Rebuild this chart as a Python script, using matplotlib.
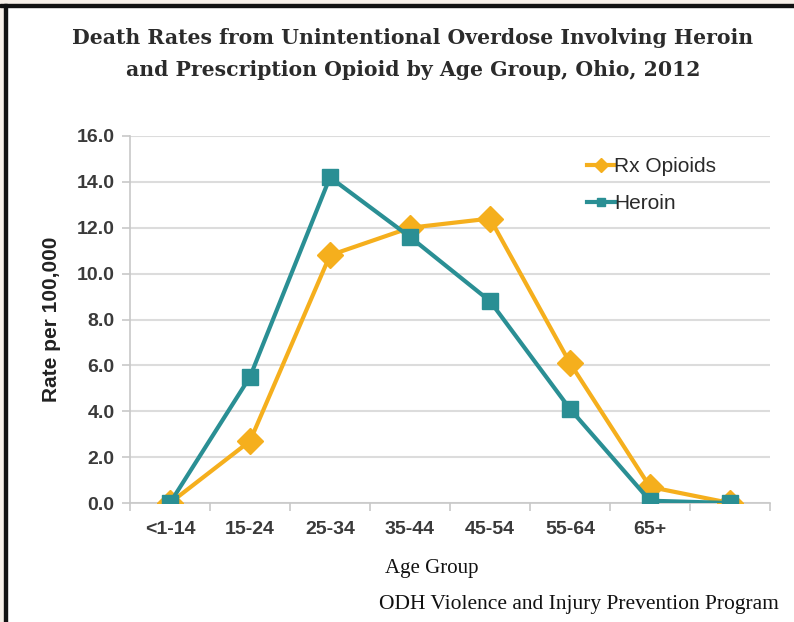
import matplotlib.pyplot as plt
from matplotlib.patches import Rectangle

# Ohio 2012 unintentional overdose death rates per 100,000
age_groups = ['<1-14', '15-24', '25-34', '35-44', '45-54', '55-64', '65+', '']
rx_opioids = [0.0, 2.7, 10.8, 12.0, 12.4, 6.1, 0.7, 0.0]
heroin = [0.0, 5.5, 14.2, 11.6, 8.8, 4.1, 0.1, 0.0]
y_ticks = [0, 2, 4, 6, 8, 10, 12, 14, 16]

W, H = 794, 622
fig = plt.figure(figsize=(W / 100, H / 100), dpi=100)
fig.patch.set_facecolor('white')

# cream margin and black frame on top / left
fig.patches.append(Rectangle((0, 1 - 4 / H), 1, 4 / H, transform=fig.transFigure,
                             color='#f6efe8', zorder=0))
fig.patches.append(Rectangle((0, 0), 4 / W, 1, transform=fig.transFigure,
                             color='#f6efe8', zorder=0))
fig.patches.append(Rectangle((0, 1 - 7 / H), 1, 3 / H, transform=fig.transFigure,
                             color='#111111', zorder=1))
fig.patches.append(Rectangle((4 / W, 0), 3 / W, 1 - 4 / H, transform=fig.transFigure,
                             color='#111111', zorder=1))

ax = fig.add_axes([130 / W, 1 - 503 / H, 640 / W, 367 / H])
x = range(len(age_groups))

ax.plot(x, rx_opioids, color='#f5af1d', linewidth=3, marker='D', markersize=13,
        label='Rx Opioids', zorder=3)
ax.plot(x, heroin, color='#2a8f94', linewidth=3, marker='s', markersize=11.5,
        label='Heroin', zorder=4)

ax.set_xlim(-0.5, len(age_groups) - 0.5)
ax.set_ylim(0, 16)
ax.set_yticks(y_ticks)
ax.set_yticklabels([f'{v:.1f}' for v in y_ticks])
ax.set_xticks(list(x))
ax.set_xticklabels(age_groups)
ax.set_xticks([i - 0.5 for i in range(len(age_groups) + 1)], minor=True)

ax.grid(axis='y', color='#dcdcdc', linewidth=1.5, zorder=0)
ax.set_axisbelow(True)
for side in ['top', 'right']:
    ax.spines[side].set_visible(False)
for side in ['left', 'bottom']:
    ax.spines[side].set_color('#c8c8c8')
    ax.spines[side].set_linewidth(1.2)

tick_font = dict(family='Liberation Sans', weight='bold', size=14)
ax.tick_params(axis='x', which='major', length=0, pad=13, labelcolor='#3a3a3a')
ax.tick_params(axis='x', which='minor', length=6, color='#c8c8c8', width=1.2)
ax.tick_params(axis='y', length=6, color='#c8c8c8', width=1.2, pad=5,
               labelcolor='#3a3a3a')
for lbl in ax.get_xticklabels() + ax.get_yticklabels():
    lbl.set_fontproperties(tick_font)

ax.set_ylabel('Rate per 100,000', fontdict=dict(family='Liberation Sans',
              weight='bold', size=15), color='#222222', labelpad=11)

leg = ax.legend(loc='upper left', bbox_to_anchor=(577 / W, 1 - 147 / H),
                bbox_transform=fig.transFigure, borderpad=0, frameon=False,
                handlelength=1.3, handletextpad=0.0, labelspacing=0.84,
                markerscale=0.55, prop=dict(family='Liberation Sans', size=15))
for t in leg.get_texts():
    t.set_color('#2a2a2a')

fig.text(413 / W, 1 - 38 / H, 'Death Rates from Unintentional Overdose Involving Heroin',
         ha='center', va='center', family='DejaVu Serif', weight='bold',
         size=14.7, color='#2b2b2b')
fig.text(413 / W, 1 - 70 / H, 'and Prescription Opioid by Age Group, Ohio, 2012',
         ha='center', va='center', family='DejaVu Serif', weight='bold',
         size=14.7, color='#2b2b2b')

fig.text(432 / W, 1 - 568 / H, 'Age Group', ha='center', va='center',
         family='Liberation Serif', size=15, color='#111111')
fig.text(579 / W, 1 - 605 / H, 'ODH Violence and Injury Prevention Program',
         ha='center', va='center', family='Liberation Serif', size=15.5,
         color='#111111')

fig.savefig('out.png', dpi=100)
